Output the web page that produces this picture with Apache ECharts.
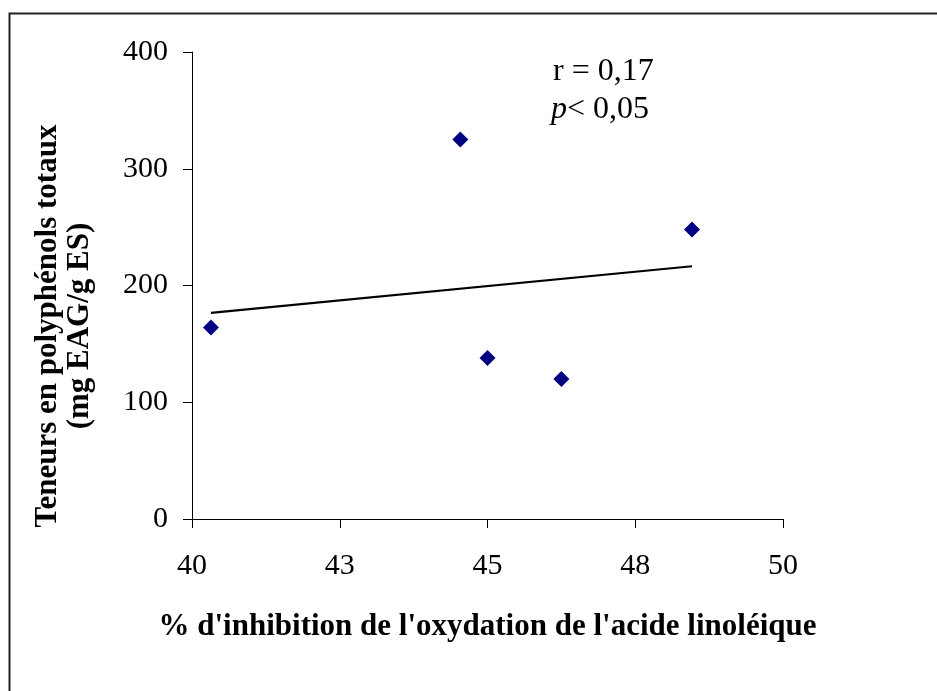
<!DOCTYPE html>
<html>
<head>
<meta charset="utf-8">
<script src="https://cdn.jsdelivr.net/npm/echarts@6/dist/echarts.min.js"></script>
<style>
  html, body { margin: 0; padding: 0; background: #fff; }
  #chart { width: 937px; height: 691px; }
</style>
</head>
<body>
<div id="chart"></div>
<script>
(function() {
  var serif = '"Liberation Serif", "DejaVu Serif", serif';

  // data
  var inhibition = [40.32, 44.54, 45.0, 46.25, 48.46];
  var polyphenols = [164, 325, 138, 120, 248];
  var trendX = [40.32, 48.46];
  var trendY = [176.5, 216.5];
  var yTicks = [0, 100, 200, 300, 400];
  var xName = "% d'inhibition de l'oxydation de l'acide linoléique";
  var yName = 'Teneurs en polyphénols totaux\n(mg EAG/g ES)';

  var points = inhibition.map(function(x, i) { return [x, polyphenols[i]]; });
  var trend = trendX.map(function(x, i) { return [x, trendY[i]]; });

  var chart = echarts.init(document.getElementById('chart'), null, { renderer: 'canvas' });
  chart.setOption({
    animation: false,
    backgroundColor: '#fff',
    grid: { left: 192, right: 154, top: 52, bottom: 172 },
    xAxis: {
      type: 'value',
      min: 40, max: 50, interval: 2.5,
      name: xName,
      nameLocation: 'middle',
      nameGap: 92,
      nameTextStyle: { fontFamily: serif, fontWeight: 'bold', fontSize: 31, color: '#000' },
      axisLine: { show: true, onZero: false, lineStyle: { color: '#000', width: 1 } },
      axisTick: { show: true, length: 9, lineStyle: { color: '#000' } },
      axisLabel: {
        margin: 32, fontFamily: serif, fontSize: 30, color: '#000',
        formatter: function(v) { return Math.round(v); }
      },
      splitLine: { show: false }
    },
    yAxis: {
      type: 'value',
      min: yTicks[0], max: yTicks[yTicks.length - 1], interval: 100,
      axisLine: { show: true, lineStyle: { color: '#000', width: 1 } },
      axisTick: { show: true, length: 9, lineStyle: { color: '#000' } },
      axisLabel: { margin: 24, fontFamily: serif, fontSize: 30, color: '#000' },
      splitLine: { show: false }
    },
    series: [
      {
        type: 'line',
        data: trend,
        symbol: 'none',
        lineStyle: { color: '#000', width: 2.2 },
        z: 1
      },
      {
        type: 'scatter',
        data: points,
        symbol: 'diamond',
        symbolSize: [16, 16],
        itemStyle: { color: '#000080', opacity: 1 },
        z: 2
      }
    ],
    graphic: [
      {
        type: 'rect',
        shape: { x: 9.5, y: 13.5, width: 1000, height: 1000 },
        style: { fill: 'none', stroke: '#222', lineWidth: 2 },
        silent: true
      },
      {
        type: 'text',
        x: 64, y: 326,
        rotation: Math.PI / 2,
        style: {
          text: yName,
          fontFamily: serif, fontWeight: 'bold', fontSize: 31, lineHeight: 32,
          fill: '#000', align: 'center', verticalAlign: 'middle'
        }
      },
      {
        type: 'text',
        left: 553, top: 56,
        style: {
          text: 'r = 0,17',
          fontFamily: serif, fontSize: 32, fill: '#000'
        }
      },
      {
        type: 'text',
        left: 551, top: 94,
        style: {
          text: '{i|p}< 0,05',
          fontFamily: serif, fontSize: 32, fill: '#000',
          rich: { i: { fontFamily: serif, fontStyle: 'italic', fontSize: 32, fill: '#000' } }
        }
      }
    ]
  });
  window.addEventListener('resize', function() { chart.resize(); });
})();
</script>
</body>
</html>
